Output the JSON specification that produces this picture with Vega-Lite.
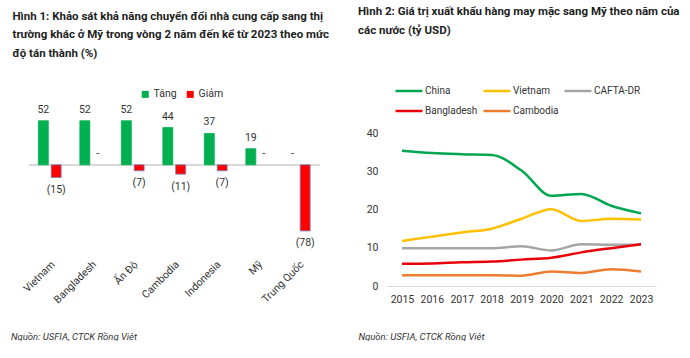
{
  "$schema": "https://vega.github.io/schema/vega-lite/v6.json",
  "padding": {"left": 10, "top": 6, "right": 0, "bottom": 0},
  "bounds": "flush",
  "spacing": 67,
  "config": {
    "view": {"stroke": null},
    "font": "Roboto",
    "title": {"font": "Roboto", "fontSize": 11.5, "fontWeight": "bold", "color": "#1e1e1e", "lineHeight": 18.5},
    "axis": {"labelFont": "Roboto", "titleFont": "Roboto", "labelColor": "#333333", "titleColor": "#333333"},
    "legend": {"labelFont": "Roboto", "labelColor": "#333333"}
  },
  "resolve": {"scale": {"color": "independent", "x": "independent", "y": "independent", "stroke": "independent"}, "legend": {"color": "independent"}},
  "hconcat": [
    {
      "width": 290.5,
      "height": 144,
      "title": {
        "text": ["Hình 1: Khảo sát khả năng chuyển đổi nhà cung cấp sang thị", "trường khác ở Mỹ trong vòng 2 năm đến kể từ 2023 theo mức", "độ tán thành (%)"],
        "anchor": "start", "frame": "group", "dx": -16.5, "offset": 30
      },
      "data": {"values": [
        {"country": "Vietnam", "series": "Tăng", "value": 52, "label": "52"},
        {"country": "Vietnam", "series": "Giảm", "value": -15, "label": "(15)"},
        {"country": "Bangladesh", "series": "Tăng", "value": 52, "label": "52"},
        {"country": "Bangladesh", "series": "Giảm", "value": 0, "label": "-"},
        {"country": "Ấn Độ", "series": "Tăng", "value": 52, "label": "52"},
        {"country": "Ấn Độ", "series": "Giảm", "value": -7, "label": "(7)"},
        {"country": "Cambodia", "series": "Tăng", "value": 44, "label": "44"},
        {"country": "Cambodia", "series": "Giảm", "value": -11, "label": "(11)"},
        {"country": "Indonesia", "series": "Tăng", "value": 37, "label": "37"},
        {"country": "Indonesia", "series": "Giảm", "value": -7, "label": "(7)"},
        {"country": "Mỹ", "series": "Tăng", "value": 19, "label": "19"},
        {"country": "Mỹ", "series": "Giảm", "value": 0, "label": "-"},
        {"country": "Trung Quốc", "series": "Tăng", "value": 0, "label": "-"},
        {"country": "Trung Quốc", "series": "Giảm", "value": -78, "label": "(78)"}
      ]},
      "layer": [
        {
          "mark": {"type": "rule", "color": "#d9d9d9", "strokeWidth": 1},
          "encoding": {"y": {"datum": 0, "type": "quantitative", "scale": {"domain": [-110, 60], "nice": false}, "axis": null}}
        },
        {
          "transform": [{"filter": "datum.value != 0"}],
          "mark": {"type": "bar", "strokeWidth": 0.8},
          "encoding": {
            "x": {"field": "country", "type": "nominal", "sort": null, "scale": {"paddingInner": 0, "paddingOuter": 0},
              "axis": {"labelAngle": -45, "domain": false, "ticks": false, "labelPadding": 1, "labelFontSize": 10.5,
                "title": "Nguồn: USFIA, CTCK Rồng Việt", "titleFontStyle": "italic", "titleFontWeight": "normal", "titleFontSize": 9.5,
                "titleAlign": "left", "titleAnchor": "start", "titleBaseline": "middle", "titleX": -18.5, "titleY": 78}},
            "xOffset": {"field": "series", "type": "nominal", "sort": ["Tăng", "Giảm"], "scale": {"domain": ["Tăng", "Giảm"], "paddingInner": 0.225, "paddingOuter": 0.73}},
            "y": {"field": "value", "type": "quantitative", "scale": {"domain": [-110, 60], "nice": false}, "axis": null},
            "color": {"field": "series", "type": "nominal", "scale": {"domain": ["Tăng", "Giảm"], "range": ["#00B050", "#FF0000"]},
              "legend": {"title": null, "orient": "none", "legendX": 111, "legendY": -25, "direction": "horizontal", "symbolType": "square", "symbolSize": 49, "symbolStrokeWidth": 0, "labelFontSize": 10.5, "labelOffset": 3, "columnPadding": 8}},
            "stroke": {"field": "series", "type": "nominal", "scale": {"domain": ["Tăng", "Giảm"], "range": ["#00B050", "#7E7AB8"]}, "legend": null}
          }
        },
        {
          "transform": [{"filter": "datum.value >= 0"}],
          "mark": {"type": "text", "dy": -11, "baseline": "middle", "fontSize": 10.5, "color": "#333333"},
          "encoding": {
            "x": {"field": "country", "type": "nominal", "sort": null},
            "xOffset": {"field": "series", "type": "nominal"},
            "y": {"field": "value", "type": "quantitative"},
            "text": {"field": "label"}
          }
        },
        {
          "transform": [{"filter": "datum.value < 0"}],
          "mark": {"type": "text", "dy": 12.5, "baseline": "middle", "fontSize": 10.5, "color": "#333333"},
          "encoding": {
            "x": {"field": "country", "type": "nominal", "sort": null},
            "xOffset": {"field": "series", "type": "nominal"},
            "y": {"field": "value", "type": "quantitative"},
            "text": {"field": "label"}
          }
        }
      ]
    },
    {
      "width": 269,
      "height": 172,
      "title": {
        "text": ["Hình 2: Giá trị xuất khẩu hàng may mặc sang Mỹ theo năm  của", "các nước (tỷ USD)"],
        "anchor": "start", "frame": "group", "dx": -29, "offset": 40
      },
      "data": {"values": [
        {"year": "2015", "series": "China", "value": 35.4},
        {"year": "2016", "series": "China", "value": 34.8},
        {"year": "2017", "series": "China", "value": 34.5},
        {"year": "2018", "series": "China", "value": 34.3},
        {"year": "2019", "series": "China", "value": 30.2},
        {"year": "2020", "series": "China", "value": 23.6},
        {"year": "2021", "series": "China", "value": 24.1},
        {"year": "2022", "series": "China", "value": 21.0},
        {"year": "2023", "series": "China", "value": 19.0},
        {"year": "2015", "series": "Vietnam", "value": 11.8},
        {"year": "2016", "series": "Vietnam", "value": 12.9},
        {"year": "2017", "series": "Vietnam", "value": 14.0},
        {"year": "2018", "series": "Vietnam", "value": 15.0},
        {"year": "2019", "series": "Vietnam", "value": 17.6},
        {"year": "2020", "series": "Vietnam", "value": 20.1},
        {"year": "2021", "series": "Vietnam", "value": 17.0},
        {"year": "2022", "series": "Vietnam", "value": 17.6},
        {"year": "2023", "series": "Vietnam", "value": 17.4},
        {"year": "2015", "series": "CAFTA-DR", "value": 9.9},
        {"year": "2016", "series": "CAFTA-DR", "value": 9.9},
        {"year": "2017", "series": "CAFTA-DR", "value": 9.9},
        {"year": "2018", "series": "CAFTA-DR", "value": 9.9},
        {"year": "2019", "series": "CAFTA-DR", "value": 10.4},
        {"year": "2020", "series": "CAFTA-DR", "value": 9.3},
        {"year": "2021", "series": "CAFTA-DR", "value": 10.9},
        {"year": "2022", "series": "CAFTA-DR", "value": 10.8},
        {"year": "2023", "series": "CAFTA-DR", "value": 10.8},
        {"year": "2015", "series": "Bangladesh", "value": 5.8},
        {"year": "2016", "series": "Bangladesh", "value": 5.9},
        {"year": "2017", "series": "Bangladesh", "value": 6.2},
        {"year": "2018", "series": "Bangladesh", "value": 6.4},
        {"year": "2019", "series": "Bangladesh", "value": 6.9},
        {"year": "2020", "series": "Bangladesh", "value": 7.4},
        {"year": "2021", "series": "Bangladesh", "value": 8.8},
        {"year": "2022", "series": "Bangladesh", "value": 9.9},
        {"year": "2023", "series": "Bangladesh", "value": 10.9},
        {"year": "2015", "series": "Cambodia", "value": 2.8},
        {"year": "2016", "series": "Cambodia", "value": 2.8},
        {"year": "2017", "series": "Cambodia", "value": 2.8},
        {"year": "2018", "series": "Cambodia", "value": 2.8},
        {"year": "2019", "series": "Cambodia", "value": 2.7},
        {"year": "2020", "series": "Cambodia", "value": 3.8},
        {"year": "2021", "series": "Cambodia", "value": 3.4},
        {"year": "2022", "series": "Cambodia", "value": 4.4},
        {"year": "2023", "series": "Cambodia", "value": 3.8}
      ]},
      "mark": {"type": "line", "interpolate": "monotone", "strokeWidth": 2.5},
      "encoding": {
        "x": {"field": "year", "type": "ordinal", "scale": {"type": "point", "padding": 0.5},
          "axis": {"labelAngle": 0, "domain": true, "domainColor": "#d9d9d9", "ticks": false, "labelPadding": 8, "labelFontSize": 10.5,
            "title": "Nguồn: USFIA, CTCK Rồng Việt", "titleFontStyle": "italic", "titleFontWeight": "normal", "titleFontSize": 9.5,
            "titleAlign": "left", "titleAnchor": "start", "titleBaseline": "middle", "titleX": -29, "titleY": 50}},
        "y": {"field": "value", "type": "quantitative", "scale": {"domain": [0, 45], "nice": false},
          "axis": {"values": [0, 10, 20, 30, 40], "grid": false, "domain": false, "ticks": false, "labelPadding": 9, "labelFontSize": 10.5, "title": null}},
        "color": {"field": "series", "type": "nominal", "sort": ["China", "Vietnam", "CAFTA-DR", "Bangladesh", "Cambodia"],
          "scale": {"domain": ["China", "Vietnam", "CAFTA-DR", "Bangladesh", "Cambodia"], "range": ["#00A650", "#FFC000", "#A5A5A5", "#E8000B", "#ED7D31"]},
          "legend": {"title": null, "orient": "none", "legendX": 7, "legendY": -38, "columns": 3, "direction": "horizontal", "symbolType": "stroke", "symbolSize": 729, "symbolStrokeWidth": 2.5, "labelFontSize": 10, "labelOffset": 1, "rowPadding": -7, "columnPadding": 0}}
      }
    }
  ]
}
